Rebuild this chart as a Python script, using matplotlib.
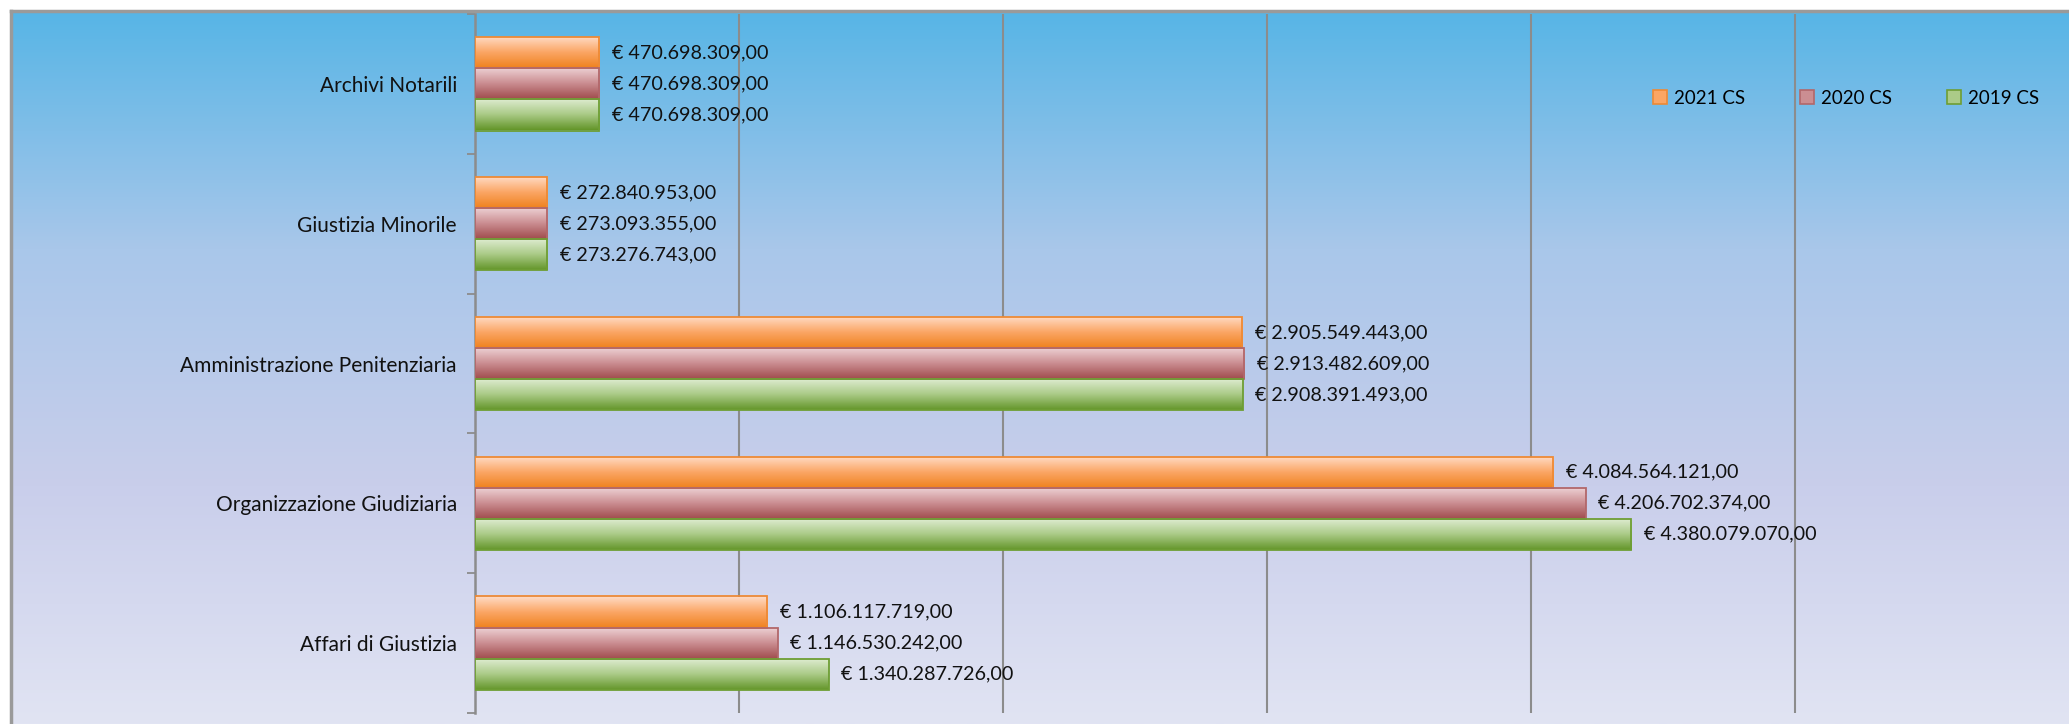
import matplotlib.pyplot as plt
import numpy as np
from matplotlib.colors import LinearSegmentedColormap
from matplotlib.patches import Patch
from matplotlib.lines import Line2D

plt.rcParams['font.family'] = ['Lato', 'DejaVu Sans']

categories = ["Archivi Notarili", "Giustizia Minorile", "Amministrazione Penitenziaria",
              "Organizzazione Giudiziaria", "Affari di Giustizia"]
series_names = ["2021 CS", "2020 CS", "2019 CS"]
cs_2021 = [470698309, 272840953, 2905549443, 4084564121, 1106117719]
cs_2020 = [470698309, 273093355, 2913482609, 4206702374, 1146530242]
cs_2019 = [470698309, 273276743, 2908391493, 4380079070, 1340287726]

# gradient stops (top -> bottom) for each series, plus edge colour
bar_grads = [["#FFDCC6", "#FBA665", "#EF821F"],
             ["#EED3D6", "#CB8E92", "#A04C4D"],
             ["#E0EDD3", "#ABCB88", "#64962A"]]
bar_edges = ["#EE8A35", "#B2676A", "#6E9E34"]
legend_fill = ["#FBA665", "#CB8E92", "#ABCB88"]

W, H = 2069, 724
fig = plt.figure(figsize=(W / 100, H / 100), dpi=100)
fig.patch.set_facecolor("white")

# chart background gradient
bg = fig.add_axes([11 / W, 0, 1 - 11 / W, 1 - 11 / H])
bg_cmap = LinearSegmentedColormap.from_list("bg", ["#57B5E6", "#A9C7EA", "#C9CEEB", "#E1E4F3"])
bg.imshow(np.linspace(0, 1, 256).reshape(-1, 1), cmap=bg_cmap, aspect="auto",
          extent=(0, 1, 0, 1), origin="upper")
bg.set_axis_off()
fig.add_artist(Line2D([11 / W, 1], [1 - 11 / H, 1 - 11 / H], color="#9A9A9A", lw=2.5))
fig.add_artist(Line2D([11 / W, 11 / W], [0, 1 - 11 / H], color="#9A9A9A", lw=2.5))

ax = fig.add_axes([475 / W, 11 / H, (2059 - 475) / W, (713 - 14) / H])
ax.patch.set_alpha(0)

y = np.arange(len(categories))[::-1].astype(float)
h = 2 / 9
offsets = [h, 0, -h]
data = [cs_2021, cs_2020, cs_2019]


def fmt(v):
    s = f"{v:,.2f}"
    return "€ " + s.replace(",", "X").replace(".", ",").replace("X", ".")


for vals, off, grad, ec, name in zip(data, offsets, bar_grads, bar_edges, series_names):
    bars = ax.barh(y + off, vals, height=h, facecolor="none", edgecolor=ec, lw=1.3,
                   zorder=4, label=name)
    cmap = LinearSegmentedColormap.from_list("g", grad)
    for b, v, yy in zip(bars, vals, y + off):
        x0, y0 = b.get_x(), b.get_y()
        im = ax.imshow(np.linspace(0, 1, 64).reshape(-1, 1), cmap=cmap, aspect="auto",
                       extent=(x0, x0 + b.get_width(), y0, y0 + b.get_height()),
                       origin="upper", zorder=3)
        im.set_clip_path(b)
        ax.annotate(fmt(v), (v, yy), xytext=(9, 0), textcoords="offset points",
                    va="center", ha="left", fontsize=14.2, color="#111111", zorder=5)

ax.set_xlim(0, 6e9)
ax.set_ylim(-0.5, len(categories) - 0.5)
ax.set_xticks(np.arange(1, 6) * 1e9)
ax.tick_params(axis="x", length=0, labelbottom=False)
ax.grid(axis="x", color="#8C8C8C", lw=1.5, zorder=1)
ax.set_yticks(y)
ax.set_yticklabels(categories, fontsize=15, color="#111111")
ax.tick_params(axis="y", which="major", length=0, pad=13)
ax.set_yticks(np.arange(-0.5, len(categories)), minor=True)
ax.tick_params(axis="y", which="minor", length=6, width=1.3, color="#8C8C8C", direction="out")
for s in ["top", "right", "bottom"]:
    ax.spines[s].set_visible(False)
ax.spines["left"].set_color("#8C8C8C")
ax.spines["left"].set_linewidth(1.8)

handles = [Patch(facecolor=fc, edgecolor=ec, lw=1.2) for fc, ec in zip(legend_fill, bar_edges)]
fig.legend(handles, series_names, loc="center", bbox_to_anchor=(1846 / W, 1 - 98 / H),
           ncol=3, frameon=False, fontsize=13.5, handlelength=0.75, handleheight=0.75,
           handletextpad=0.4, columnspacing=2.9)

fig.savefig("out.png", dpi=100)
